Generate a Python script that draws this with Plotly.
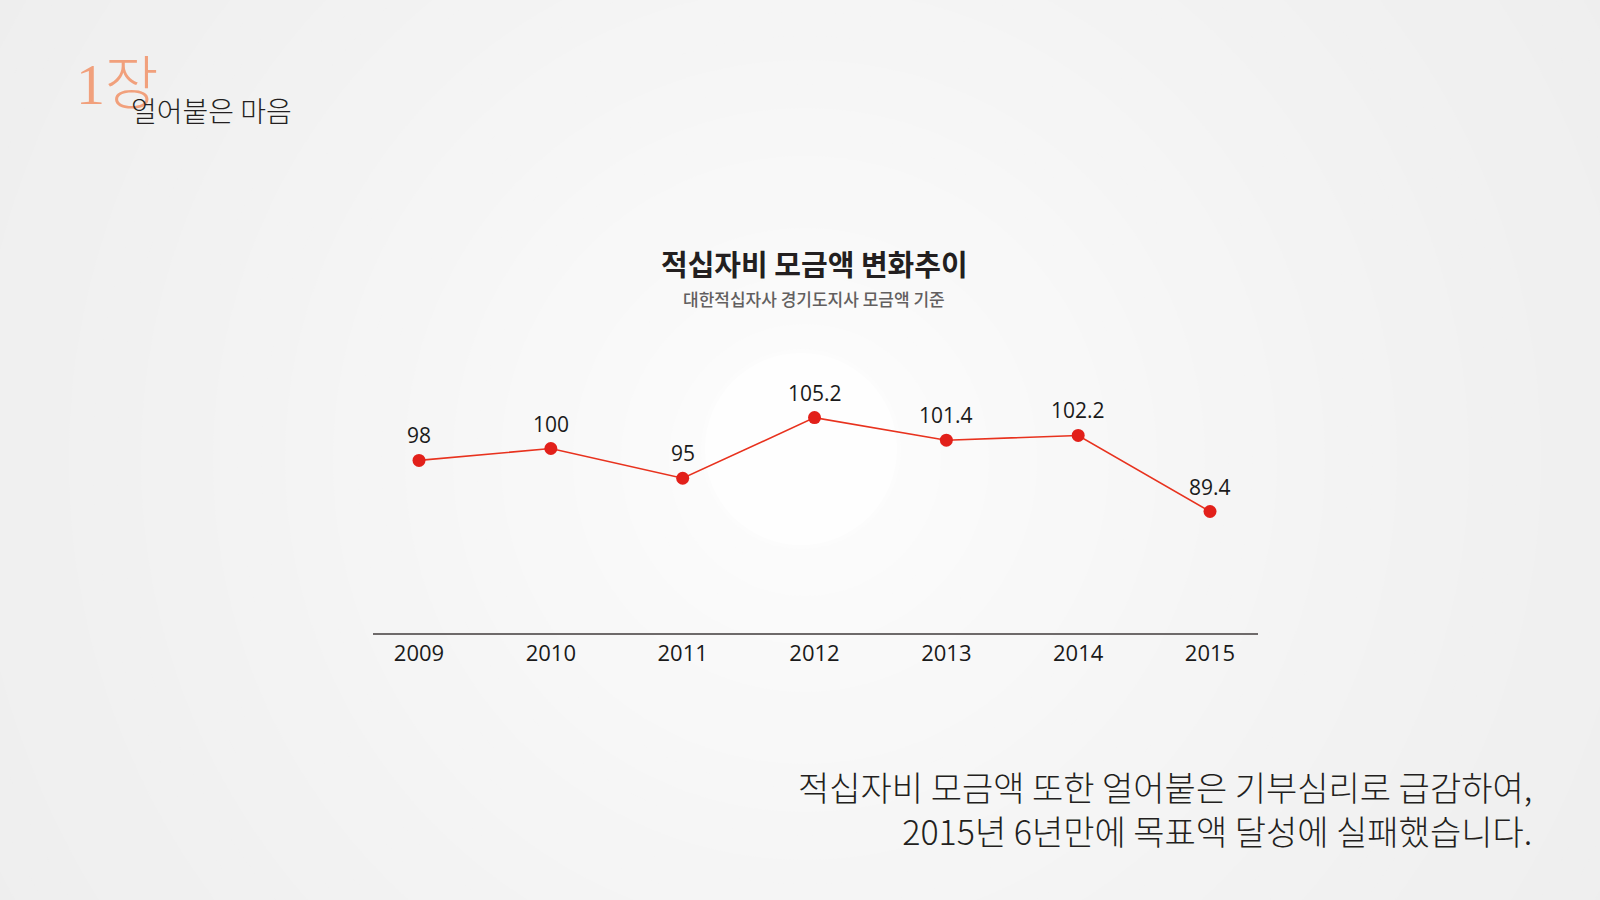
import plotly.graph_objects as go

# chart data
years = [2009, 2010, 2011, 2012, 2013, 2014, 2015]
amounts = [98, 100, 95, 105.2, 101.4, 102.2, 89.4]
year_labels = ['2009', '2010', '2011', '2012', '2013', '2014', '2015']

chart_title = '적십자비 모금액 변화추이'
chart_subtitle = '대한적십자사 경기도지사 모금액 기준'
chapter_num = '1장'
chapter_name = '얼어붙은 마음'
caption_lines = ['적십자비 모금액 또한 얼어붙은 기부심리로 급감하여,',
                 '2015년 6년만에 목표액 달성에 실패했습니다.']

W, H = 1600, 900
L, R, T, B = 373, 342, 340, 267
PW, PH = W - L - R, H - T - B

KR = 'Noto Sans CJK KR, Noto Sans, sans-serif'
NUM = 'Open Sans, Noto Sans, sans-serif'


def px(x):
    # page pixel -> paper x
    return (x - L) / PW


def py(y):
    # page pixel -> paper y
    return (H - B - y) / PH


def grey(v):
    return 'rgb({0},{0},{0})'.format(int(round(v)))


# soft radial background made of stacked discs
shapes = []
cx, cy = 805, 460
steps = 40
for i in range(steps):
    r = 1000 - i * 24
    shade = 238 + (252 - 238) * (i / (steps - 1)) ** 1.3
    shapes.append(dict(type='circle', xref='paper', yref='paper', layer='below',
                       x0=px(cx - r), x1=px(cx + r), y0=py(cy + r), y1=py(cy - r),
                       fillcolor=grey(shade), line=dict(width=0)))
# brighter spot behind 2012
for r, shade in [(100, 252.5), (96, 253.5), (92, 254.5)]:
    shapes.append(dict(type='circle', xref='paper', yref='paper', layer='below',
                       x0=px(801 - r), x1=px(801 + r), y0=py(449 + r), y1=py(449 - r),
                       fillcolor=grey(shade), line=dict(width=0)))

fig = go.Figure()
fig.add_trace(go.Scatter(
    x=years, y=amounts, mode='lines+markers',
    line=dict(color='#e8321e', width=1.6),
    marker=dict(color='#e2201a', size=13),
    hoverinfo='x+y', showlegend=False))

annotations = []
# value labels
for yr, v in zip(years, amounts):
    annotations.append(dict(x=yr, y=v, xref='x', yref='y', text=f'{v:g}',
                            showarrow=False, yshift=25, yanchor='middle',
                            font=dict(family=NUM, size=21, color='#1a1a1a')))

annotations += [
    dict(x=px(814), y=py(263), xref='paper', yref='paper', text='<b>' + chart_title + '</b>',
         showarrow=False, xanchor='center', yanchor='middle',
         font=dict(family=KR, size=29, color='#231f20')),
    dict(x=px(814), y=py(298), xref='paper', yref='paper', text=chart_subtitle,
         showarrow=False, xanchor='center', yanchor='middle',
         font=dict(family=KR, size=17, color='#625f5f', weight=500)),
    dict(x=px(74), y=py(84), xref='paper', yref='paper', text=chapter_num,
         showarrow=False, xanchor='left', yanchor='middle',
         font=dict(family='Liberation Serif, Noto Sans CJK KR, serif', size=58,
                   color='#f1a07c', weight=300)),
    dict(x=px(129), y=py(110), xref='paper', yref='paper', text=chapter_name,
         showarrow=False, xanchor='left', yanchor='middle',
         font=dict(family=KR, size=28, color='#231f20', weight=300)),
    dict(x=px(1534), y=py(808), xref='paper', yref='paper', text='<br>'.join(caption_lines),
         showarrow=False, xanchor='right', yanchor='middle', align='right',
         font=dict(family=KR, size=34, color='#231f20', weight=300)),
]

fig.update_layout(
    width=W, height=H,
    margin=dict(l=L, r=R, t=T, b=B),
    paper_bgcolor='#eeeeee',
    plot_bgcolor='rgba(0,0,0,0)',
    shapes=shapes,
    annotations=annotations,
    xaxis=dict(range=[2008.651, 2015.364], tickvals=years, ticktext=year_labels,
               showgrid=False, zeroline=False, showline=True, linecolor='#6e6a6a',
               linewidth=2, ticks='', ticklabelstandoff=0,
               tickfont=dict(family=NUM, size=22, color='#1a1a1a'), fixedrange=True),
    yaxis=dict(range=[68.96, 118.26], visible=False, fixedrange=True),
)

fig.write_html('out.html', config={'displayModeBar': False},
               post_script="document.body.style.margin='0';")
